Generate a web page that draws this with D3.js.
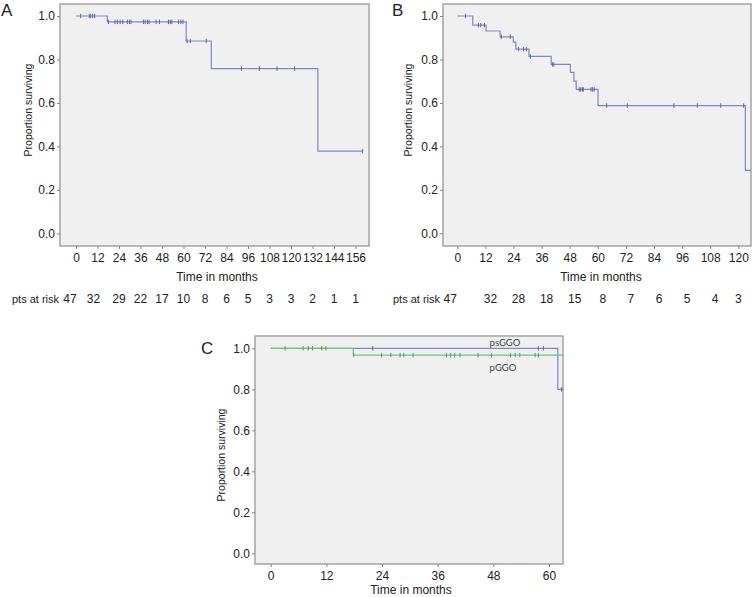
<!DOCTYPE html>
<html><head><meta charset="utf-8">
<script src="https://cdn.jsdelivr.net/npm/d3@7"></script>
<style>
body{margin:0;background:#fff;}
svg text{font-family:"Liberation Sans",Arial,Helvetica,sans-serif;fill:#222;}
</style></head>
<body>
<script>
// ---------- DATA ----------
const yTicks = [0, 0.2, 0.4, 0.6, 0.8, 1.0];

// Panel A
const aTicks = [0,12,24,36,48,60,72,84,96,108,120,132,144,156];
const aRisk = [47,32,29,22,17,10,8,6,5,3,3,2,1,1];
const aEvents = [17.5, 61.5, 75.5, 135.0];
const aSurv = [1.0, 0.973, 0.885, 0.758, 0.378];
const aEnd = 160;
const aCensor = [2.6,7.4,8.2,9.3,10.4,18.1,21.8,23.1,24.6,26.1,28.7,29.8,30.7,37.6,38.6,39.9,40.8,44.7,46.6,51.6,52.6,53.5,57.2,58.5,59.7,62.0,63.8,72.7,92.3,102.3,112.2,122.0,160];

// Panel B
const bTicks = [0,12,24,36,48,60,72,84,96,108,120];
const bRisk = [47,32,28,18,15,8,7,6,5,4,3];
const bEvents = [6.6,12.3,18.3,23.9,25.0,30.6,40.1,48.3,49.8,50.8,60.1,123.0];
const bSurv = [1.0,0.958,0.931,0.904,0.880,0.848,0.814,0.777,0.741,0.700,0.662,0.588,0.290];
const bEnd = 125.4;
const bCensor = [3.5,9.0,10.0,11.6,18.8,22.6,26.2,28.3,29.5,31.2,40.6,41.2,52.1,52.7,53.4,53.8,57.1,57.8,58.5,63.8,72.6,92.5,102.5,112.5,122.3];

// Panel C
const cTicks = [0,12,24,36,48,60];
const cSeries = ["psGGO","pGGO"];
const psEvents = [61.9];
const psSurv = [1.0, 0.8];
const psEnd = 63.1;
const psCensor = [22.0,57.7,58.8,62.7];
const pEvents = [17.8];
const pSurv = [1.0, 0.967];
const pEnd = 63.1;
const pCensor = [3.1,7.0,8.1,9.0,11.0,11.9,17.9,23.9,25.9,27.9,28.7,30.7,37.9,38.8,39.7,40.8,44.7,47.6,51.7,52.7,53.7,57.0,57.7];

// ---------- DRAW ----------
const W = 755, H = 597;
const svg = d3.select("body").append("svg").attr("width", W).attr("height", H);

const BLUE = "#8087c6", BLUE_D = "#5d64a8", GREEN = "#6cc67c", GREEN_D = "#46a558";
const BG = "#f0f0f0", BORDER = "#a4a4a4";

function survAt(t, events, surv){
  let s = surv[0];
  events.forEach((e,i)=>{ if (e <= t) s = surv[i+1]; });
  return s;
}

function drawCurve(g, x, y, events, surv, end, censor, color, colorD){
  const pts = [[0, surv[0]]].concat(events.map((e,i)=>[e, surv[i+1]])).concat([[end, surv[surv.length-1]]]);
  const line = d3.line().x(d=>x(d[0])).y(d=>y(d[1])).curve(d3.curveStepAfter);
  g.append("path").attr("d", line(pts)).attr("fill","none").attr("stroke", color).attr("stroke-width",1.2);
  g.selectAll(null).data(censor).enter().append("line")
    .attr("x1", d=>x(d)).attr("x2", d=>x(d))
    .attr("y1", d=>y(survAt(d, events, surv))-2.2)
    .attr("y2", d=>y(survAt(d, events, surv))+2.2)
    .attr("stroke", colorD).attr("stroke-width",1);
}

function panel(cfg){
  const g = svg.append("g");
  const {box} = cfg;
  g.append("rect").attr("x",box.l).attr("y",box.t).attr("width",box.r-box.l).attr("height",box.b-box.t)
    .attr("fill",BG).attr("stroke",BORDER).attr("stroke-width",1.5);
  const x = d3.scaleLinear().domain([0, cfg.tmax]).range(cfg.xr);
  const y = d3.scaleLinear().domain([0,1]).range(cfg.yr);

  const ya = g.append("g").attr("transform",`translate(${box.l},0)`)
    .call(d3.axisLeft(y).tickValues(yTicks).tickFormat(d3.format(".1f")).tickSize(3).tickPadding(2));
  ya.select(".domain").remove();
  ya.selectAll("line").attr("stroke","#888");
  ya.selectAll("text").attr("font-size",12).style("fill","#222");

  const xa = g.append("g").attr("transform",`translate(0,${box.b})`)
    .call(d3.axisBottom(x).tickValues(cfg.ticks).tickFormat(d3.format("d")).tickSize(3).tickPadding(4));
  xa.select(".domain").remove();
  xa.selectAll("line").attr("stroke","#888");
  xa.selectAll("text").attr("font-size",12).style("fill","#222");

  g.append("text").attr("x",cfg.xtitle[0]).attr("y",cfg.xtitle[1]).attr("text-anchor","middle")
    .attr("font-size",12).text("Time in months");
  g.append("text").attr("transform",`translate(${cfg.ytitle[0]},${cfg.ytitle[1]}) rotate(-90)`)
    .attr("text-anchor","middle").attr("font-size",10.5).text("Proportion surviving");
  g.append("text").attr("x",cfg.letter[0]).attr("y",cfg.letter[1]).attr("font-size",17).text(cfg.label);
  return {g, x, y};
}

// Panel A
{
  const p = panel({label:"A", box:{l:60,t:4,r:369,b:246}, tmax:156, xr:[76,355.5], yr:[233.3,16],
    ticks:aTicks, xtitle:[217,281], ytitle:[32,110], letter:[1,16]});
  drawCurve(p.g, p.x, p.y, aEvents, aSurv, aEnd, aCensor, BLUE, BLUE_D);
  p.g.append("text").attr("x",12).attr("y",303).attr("font-size",11).text("pts at risk");
  p.g.selectAll(null).data(aRisk).enter().append("text")
    .attr("x",(d,i)=>p.x(aTicks[i]) + (i===0?-6:i===1?-4:0)).attr("y",303)
    .attr("text-anchor","middle").attr("font-size",12).text(d=>d);
}
// Panel B
{
  const p = panel({label:"B", box:{l:443,t:4,r:751,b:246}, tmax:120, xr:[457.3,738.3], yr:[233.3,16],
    ticks:bTicks, xtitle:[601,281], ytitle:[412,110], letter:[392,16]});
  drawCurve(p.g, p.x, p.y, bEvents, bSurv, bEnd, bCensor, BLUE, BLUE_D);
  p.g.append("text").attr("x",393).attr("y",303).attr("font-size",11).text("pts at risk");
  p.g.selectAll(null).data(bRisk).enter().append("text")
    .attr("x",(d,i)=>p.x(bTicks[i]) + (i===0?-7:i===bRisk.length-1?0:5)).attr("y",303)
    .attr("text-anchor","middle").attr("font-size",12).text(d=>d);
}
// Panel C
{
  const p = panel({label:"C", box:{l:255,t:336,r:563,b:564}, tmax:60, xr:[270.7,549], yr:[553.3,348.3],
    ticks:cTicks, xtitle:[411,594], ytitle:[225,455], letter:[201,354]});
  drawCurve(p.g, p.x, p.y, psEvents, psSurv, psEnd, psCensor, BLUE, BLUE_D);
  drawCurve(p.g, p.x, p.y, pEvents, pSurv, pEnd, pCensor, GREEN, GREEN_D);
  const lab = p.g.append("g");
  lab.append("text").attr("x",505).attr("y",p.y(1.0)-2).attr("text-anchor","middle").attr("font-size",9.5)
    .style("font-family","Lato, 'Open Sans', sans-serif").style("fill","#444").text(cSeries[0]);
  lab.append("text").attr("x",503).attr("y",p.y(0.967)+16).attr("text-anchor","middle").attr("font-size",9.5)
    .style("font-family","Lato, 'Open Sans', sans-serif").style("fill","#444").text(cSeries[1]);
}
</script>
</body></html>
